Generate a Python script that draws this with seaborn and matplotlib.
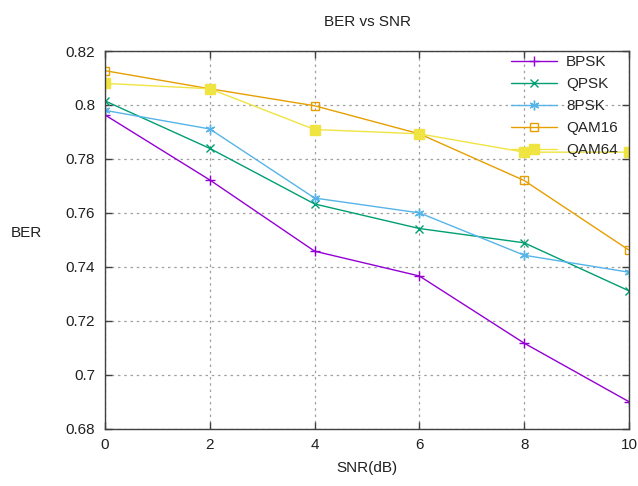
import seaborn as sns
import matplotlib.pyplot as plt
import pandas as pd
from matplotlib.ticker import FuncFormatter

sns.set_style('ticks')
plt.rcParams['font.family'] = ['Liberation Sans', 'DejaVu Sans']

snr = [0, 2, 4, 6, 8, 10]
bpsk = [0.7963, 0.7722, 0.7458, 0.7366, 0.7117, 0.6900]
qpsk = [0.8015, 0.7839, 0.7633, 0.7542, 0.7489, 0.7311]
psk8 = [0.7980, 0.7911, 0.7655, 0.7600, 0.7443, 0.7380]
qam16 = [0.8127, 0.8060, 0.7997, 0.7893, 0.7720, 0.7462]
qam64 = [0.8080, 0.8060, 0.7909, 0.7893, 0.7825, 0.7825]

series = ['BPSK', 'QPSK', '8PSK', 'QAM16', 'QAM64']
colors = ['#9400D3', '#009E73', '#56B4E9', '#E69F00', '#F0E442']

rows = []
for name, vals in zip(series, [bpsk, qpsk, psk8, qam16, qam64]):
    for s, v in zip(snr, vals):
        rows.append({'SNR': s, 'BER': v, 'mod': name})
df = pd.DataFrame(rows)

fig = plt.figure(figsize=(6.38, 4.86), dpi=100)
ax = fig.add_axes([105 / 638, 1 - 428.7 / 486, 524 / 638, 377.7 / 486])

# marker style per series (gnuplot look)
mk = {'BPSK': dict(marker='+', ms=7, mew=1),
      'QPSK': dict(marker='x', ms=5.5, mew=1),
      '8PSK': dict(marker=(6, 2, 0), ms=7, mew=1),
      'QAM16': dict(marker='s', ms=6, mew=1, mfc='none'),
      'QAM64': dict(marker='s', ms=7, mew=1)}

for name, c in zip(series, colors):
    sub = df[df['mod'] == name]
    m = mk[name]
    sns.lineplot(data=sub, x='SNR', y='BER', ax=ax, color=c, lw=1,
                 marker=m['marker'], markersize=m['ms'], markeredgewidth=m['mew'],
                 markerfacecolor=m.get('mfc', c), markeredgecolor=c,
                 label=name)

ax.set_xlim(0, 10)
ax.set_ylim(0.68, 0.82)
ax.set_xticks(snr)
ax.set_yticks([0.68, 0.70, 0.72, 0.74, 0.76, 0.78, 0.80, 0.82])
ax.yaxis.set_major_formatter(FuncFormatter(lambda v, p: '%g' % round(v, 2)))
ax.tick_params(direction='in', top=True, right=True, length=5, width=1,
               color='#404040', labelsize=11, pad=7, labelcolor='#202020')
for sp in ax.spines.values():
    sp.set_color('#404040')
    sp.set_linewidth(1)
ax.grid(True, linestyle=(0, (2, 3)), color='#a0a0a0', linewidth=0.9)

ax.set_title('BER vs SNR', fontsize=11, pad=18, color='#202020')
ax.set_xlabel('SNR(dB)', fontsize=11, labelpad=6, color='#202020')
ax.set_ylabel('BER', fontsize=11, rotation=0, color='#202020')
ax.yaxis.set_label_coords(-0.15, 0.5)

ax.legend(loc='upper right', frameon=False, fontsize=11, handlelength=3.0,
          labelspacing=0.52, borderaxespad=0, handletextpad=0.6,
          bbox_to_anchor=(624 / 638, 1 - 49 / 486), bbox_transform=fig.transFigure)

fig.savefig('out.png', dpi=100)
